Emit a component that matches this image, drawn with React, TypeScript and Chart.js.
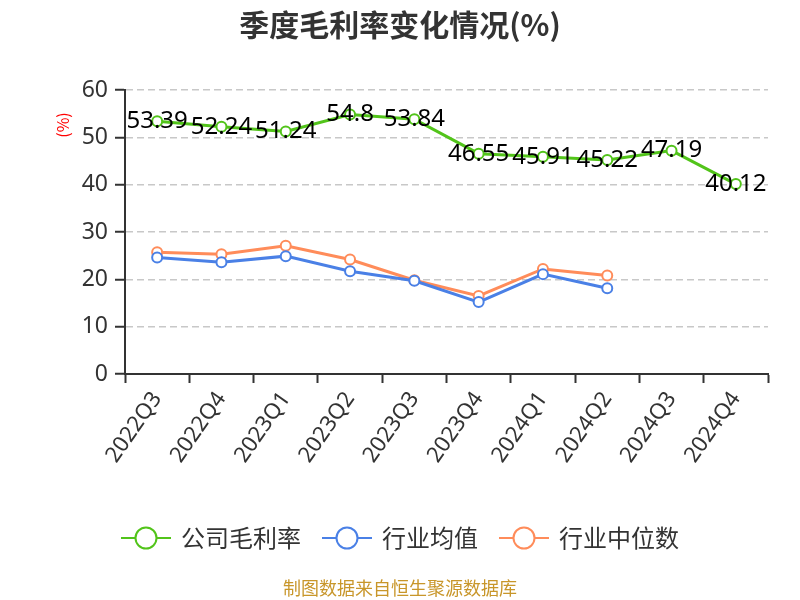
import React, { useEffect, useRef } from "react";
import { Chart, registerables } from "chart.js";

Chart.register(...registerables);

const categories = ["2022Q3", "2022Q4", "2023Q1", "2023Q2", "2023Q3", "2023Q4", "2024Q1", "2024Q2", "2024Q3", "2024Q4"];
const companyMargin = [53.39, 52.24, 51.24, 54.8, 53.84, 46.55, 45.91, 45.22, 47.19, 40.12];
const industryAvg = [24.6, 23.6, 24.9, 21.7, 19.7, 15.2, 21.1, 18.1, null, null];
const industryMedian = [25.7, 25.3, 27.1, 24.2, 19.8, 16.5, 22.2, 20.8, null, null];
const yTicks = [0, 10, 20, 30, 40, 50, 60];

const seriesNames = ["公司毛利率", "行业均值", "行业中位数"];
const GREEN = "#52c41a";
const BLUE = "#4a80e6";
const ORANGE = "#ff8c5a";
const colors = [GREEN, BLUE, ORANGE];

const TITLE = "季度毛利率变化情况(%)";
const FOOTER = "制图数据来自恒生聚源数据库";
const CJK = '"Noto Sans CJK SC", "Noto Sans", sans-serif';
const LATIN = '"Noto Sans", "Open Sans", sans-serif';

const decorPlugin = {
  id: "decor",
  afterDatasetsDraw(chart: any) {
    const ctx = chart.ctx;
    const meta = chart.getDatasetMeta(0);
    ctx.save();
    ctx.font = `24px ${LATIN}`;
    ctx.fillStyle = "#000";
    ctx.textAlign = "center";
    ctx.textBaseline = "middle";
    meta.data.forEach((pt: any, i: number) => {
      const v = companyMargin[i];
      if (v == null) return;
      ctx.fillText(String(v), pt.x, pt.y);
    });
    ctx.restore();
  },
  afterDraw(chart: any) {
    const ctx = chart.ctx;
    const w = chart.width;
    ctx.save();
    // title
    ctx.font = `bold 30px ${CJK}`;
    ctx.fillStyle = "#333";
    ctx.textAlign = "center";
    ctx.textBaseline = "middle";
    ctx.fillText(TITLE, w / 2, 25);

    // y title
    ctx.save();
    ctx.translate(63, chart.chartArea.top + 35);
    ctx.rotate(-Math.PI / 2);
    ctx.font = `16px ${CJK}`;
    ctx.fillStyle = "#ff0000";
    ctx.fillText("(%)", 0, 0);
    ctx.restore();

    // legend
    ctx.font = `24px ${CJK}`;
    const symW = 50;
    const textGap = 10;
    const itemGap = 21;
    const widths = seriesNames.map((n) => symW + textGap + ctx.measureText(n).width);
    const total = widths.reduce((a, b) => a + b, 0) + itemGap * (seriesNames.length - 1);
    let x = w / 2 - total / 2;
    const ly = 538;
    seriesNames.forEach((name, i) => {
      ctx.strokeStyle = colors[i];
      ctx.lineWidth = 2;
      ctx.beginPath();
      ctx.moveTo(x, ly);
      ctx.lineTo(x + symW, ly);
      ctx.stroke();
      ctx.beginPath();
      ctx.arc(x + symW / 2, ly, 10.5, 0, Math.PI * 2);
      ctx.fillStyle = "#fff";
      ctx.fill();
      ctx.stroke();
      ctx.fillStyle = "#333";
      ctx.textAlign = "left";
      ctx.fillText(name, x + symW + textGap, ly);
      x += widths[i] + itemGap;
    });

    // footer
    ctx.font = `18px ${CJK}`;
    ctx.fillStyle = "#c8962a";
    ctx.textAlign = "center";
    ctx.fillText(FOOTER, w / 2, 588);
    ctx.restore();
  },
};

export default function App() {
  const ref = useRef<HTMLCanvasElement | null>(null);
  useEffect(() => {
    document.body.style.margin = "0";
    const canvas = ref.current!;
    const mkDs = (label: string, data: (number | null)[], color: string) => ({
      label,
      data,
      borderColor: color,
      backgroundColor: "#fff",
      pointBackgroundColor: "#fff",
      pointBorderColor: color,
      pointBorderWidth: 2,
      pointRadius: 5,
      borderWidth: 3,
      tension: 0,
      spanGaps: false,
    });
    const chart = new Chart(canvas, {
      type: "line",
      data: {
        labels: categories,
        datasets: [
          mkDs(seriesNames[0], companyMargin, GREEN),
          mkDs(seriesNames[1], industryAvg, BLUE),
          mkDs(seriesNames[2], industryMedian, ORANGE),
        ],
      },
      options: {
        responsive: false,
        animation: false,
        devicePixelRatio: 1,
        layout: { padding: { top: 90, right: 32, bottom: 126, left: 0 } },
        plugins: {
          legend: { display: false },
          title: { display: false },
          tooltip: { enabled: false },
        },
        scales: {
          x: {
            type: "category",
            offset: true,
            grid: {
              display: true,
              offset: true,
              drawOnChartArea: false,
              tickLength: 9,
              tickColor: "#333",
              tickWidth: 2,
            },
            border: { display: true, color: "#333", width: 2 },
            ticks: {
              color: "#333",
              font: { size: 22, family: LATIN },
              minRotation: 55,
              maxRotation: 55,
              autoSkip: false,
              padding: 4,
            },
            afterFit(scale: any) {
              scale.height = 100;
            },
          },
          y: {
            min: 0,
            max: 60,
            afterBuildTicks(scale: any) {
              scale.ticks = yTicks.map((v) => ({ value: v }));
            },
            grid: {
              color: "#c8c8c8",
              lineWidth: 1.5,
              tickLength: 10,
              tickColor: "#333",
              tickWidth: 2,
              tickBorderDash: [],
            },
            border: { display: true, color: "#333", width: 2, dash: [7, 4] },
            ticks: {
              color: "#333",
              font: { size: 23, family: LATIN },
              padding: 7,
            },
            afterFit(scale: any) {
              scale.width = 125;
            },
          },
        },
      },
      plugins: [decorPlugin],
    } as any);
    return () => chart.destroy();
  }, []);
  return <canvas ref={ref} width={800} height={600} style={{ width: 800, height: 600, display: "block" }} />;
}
